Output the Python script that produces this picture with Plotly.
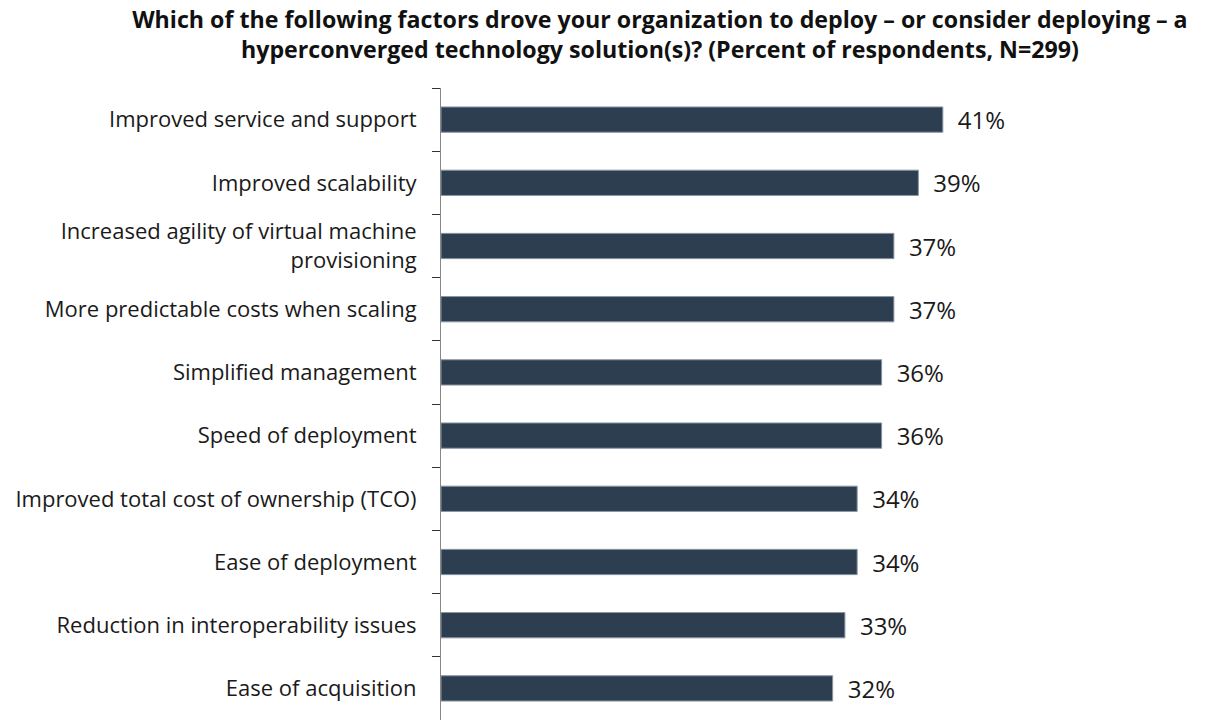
import plotly.graph_objects as go

# %% data
factors = [
    "Improved service and support",
    "Improved scalability",
    "Increased agility of virtual machine<br>provisioning",
    "More predictable costs when scaling",
    "Simplified management",
    "Speed of deployment",
    "Improved total cost of ownership (TCO)",
    "Ease of deployment",
    "Reduction in interoperability issues",
    "Ease of acquisition",
]
pct = [41, 39, 37, 37, 36, 36, 34, 34, 33, 32]

title_text = ("Which of the following factors drove your organization to deploy \u2013 or consider deploying \u2013 a<br>"
              "hyperconverged technology solution(s)? (Percent of respondents, N=299)")

# %% plot
fig = go.Figure(go.Bar(
    x=pct,
    y=factors,
    orientation="h",
    texttemplate="\u2002%{x}%",
    textposition="outside",
    constraintext="none",
    textfont=dict(size=24, color="#1a1a1a", family="Open Sans"),
    cliponaxis=False,
    marker=dict(color="#2D3E50", line=dict(color="#8a96a3", width=1)),
    width=0.4,
))

# page body has an 8px margin, so the figure is a bit smaller than the window
fig.update_layout(
    width=1205, height=713,
    paper_bgcolor="white", plot_bgcolor="white",
    margin=dict(l=433, r=160, t=80, b=1, autoexpand=False),
    font=dict(family="Open Sans", size=22, color="#1a1a1a"),
    title=dict(text=title_text, x=0.541, xanchor="center", xref="container",
               y=0.972, yanchor="middle", yref="container",
               font=dict(size=23.2, family="Open Sans", color="#111111", weight="bold")),
    showlegend=False,
    bargap=0.6,
)
fig.update_xaxes(range=[0, 50], showgrid=False, showticklabels=False, zeroline=False,
                 showline=False, automargin=False)
fig.update_yaxes(
    categoryorder="array", categoryarray=factors, autorange="reversed",
    showline=True, linecolor="#888888", linewidth=1,
    ticks="outside", tickson="boundaries", ticklen=8, tickcolor="#333333",
    ticklabelstandoff=19, showgrid=False, automargin=False,
)

fig.write_html("out.html")
